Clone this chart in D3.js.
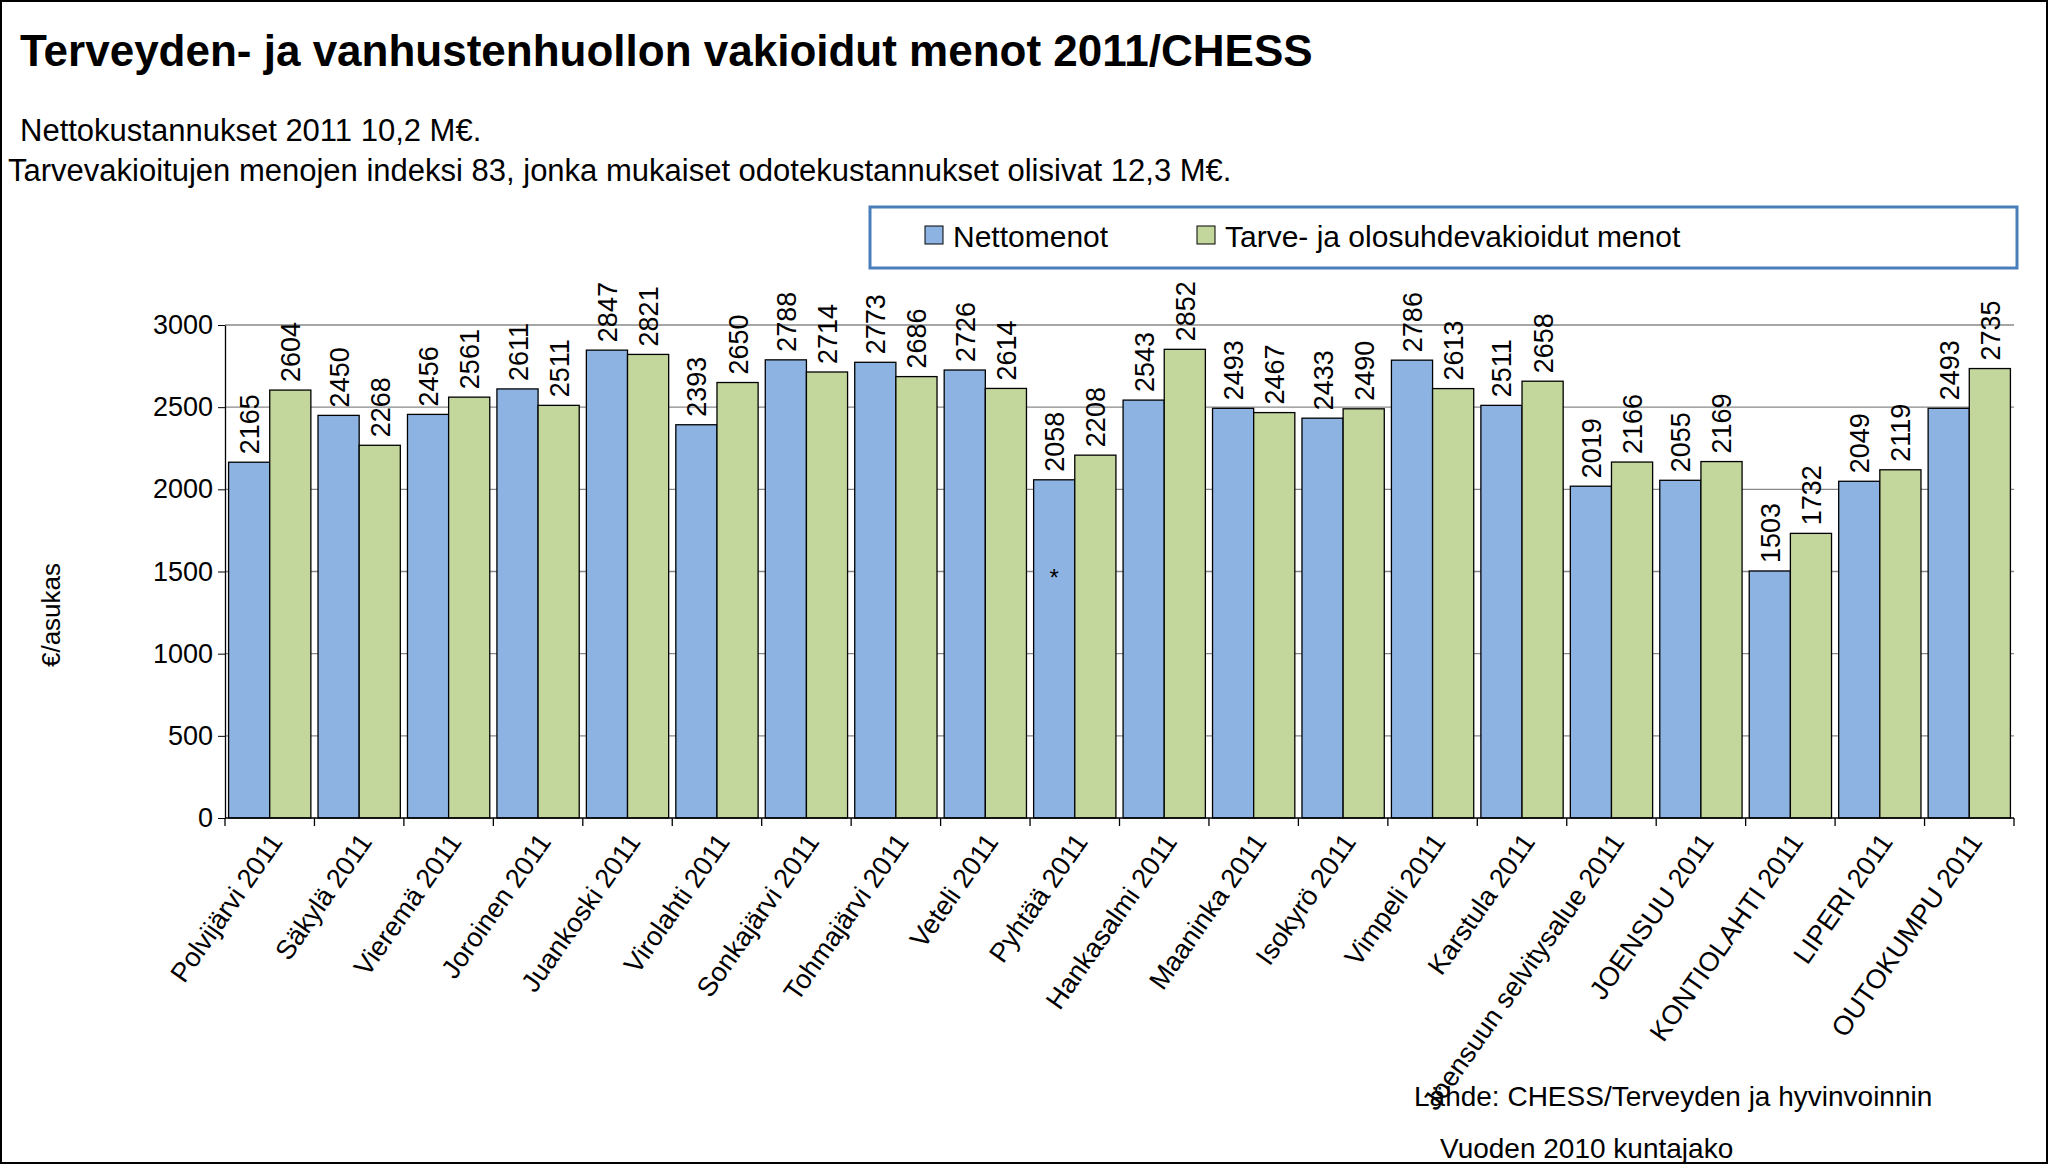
<!DOCTYPE html>
<html><head><meta charset="utf-8">
<script src="https://cdn.jsdelivr.net/npm/d3@7/dist/d3.min.js"></script>
<style>body{margin:0;background:#fff}svg text{font-family:"Liberation Sans",Arial,sans-serif}</style>
</head><body><svg id="c" width="2052" height="1168"></svg>
<script>
const categories=["Polvijärvi 2011","Säkylä 2011","Vieremä 2011","Joroinen 2011","Juankoski 2011","Virolahti 2011","Sonkajärvi 2011","Tohmajärvi 2011","Veteli 2011","Pyhtää 2011","Hankasalmi 2011","Maaninka 2011","Isokyrö 2011","Vimpeli 2011","Karstula 2011","Joensuun selvitysalue 2011","JOENSUU 2011","KONTIOLAHTI 2011","LIPERI 2011","OUTOKUMPU 2011"];
const netto=[2165,2450,2456,2611,2847,2393,2788,2773,2726,2058,2543,2493,2433,2786,2511,2019,2055,1503,2049,2493];
const vakio=[2604,2268,2561,2511,2821,2650,2714,2686,2614,2208,2852,2467,2490,2613,2658,2166,2169,1732,2119,2735];
const yTicks=[0,500,1000,1500,2000,2500,3000];
const seriesNames=["Nettomenot","Tarve- ja olosuhdevakioidut menot"];
const colors=["#8db3e2","#c3d69b"];

const svg=d3.select("#c");
svg.append("rect").attr("x",1).attr("y",1).attr("width",2046).attr("height",1162).attr("fill","#fff").attr("stroke","#000").attr("stroke-width",2);
const L=225,R=2014,T=325,B=818;
const x=d3.scaleBand().domain(categories).range([L,R]).paddingInner(0.08).paddingOuter(0.04);
const y=d3.scaleLinear().domain([0,3000]).range([B,T]);
const g=svg.append("g");
g.selectAll(".grid").data(yTicks.slice(1)).join("line").attr("x1",L).attr("x2",R).attr("y1",d=>y(d)).attr("y2",d=>y(d)).attr("stroke","#888").attr("stroke-width",1.3);
const bw=x.bandwidth()/2;
[netto,vakio].forEach((arr,si)=>{
  g.selectAll(".b"+si).data(arr).join("rect").attr("x",(d,i)=>x(categories[i])+si*bw).attr("y",d=>y(d)).attr("width",bw).attr("height",d=>B-y(d)).attr("fill",colors[si]).attr("stroke","#000").attr("stroke-width",1.3);
  g.selectAll(".l"+si).data(arr).join("text").attr("transform",(d,i)=>`translate(${x(categories[i])+si*bw+bw/2+10},${y(d)-8}) rotate(-90)`).attr("font-size",27).text(d=>d);
});
const pi=categories.indexOf("Pyhtää 2011");
g.append("text").attr("x",x(categories[pi])+bw/2).attr("y",y(1500)+14).attr("text-anchor","middle").attr("font-size",24).text("*");
const ya=d3.axisLeft(y).tickValues(yTicks).tickFormat(d3.format("d")).tickSize(7).tickSizeOuter(0);
const yg=svg.append("g").attr("transform",`translate(${L},0)`).call(ya);
yg.selectAll("text").attr("font-size",27).attr("dx",-2);
yg.select(".domain").attr("stroke","#000").attr("stroke-width",1.3);
const xg=svg.append("g").attr("transform",`translate(0,${B})`);
xg.append("line").attr("x1",L).attr("x2",R).attr("stroke","#000").attr("stroke-width",1.3);
const step=x.step();
xg.selectAll(".t").data(d3.range(categories.length+1)).join("line").attr("x1",i=>x(categories[0])-x.paddingInner()*step/2+i*step).attr("x2",i=>x(categories[0])-x.paddingInner()*step/2+i*step).attr("y2",8).attr("stroke","#000").attr("stroke-width",1.3);
xg.selectAll(".c").data(categories).join("text").attr("transform",d=>`translate(${x(d)+x.bandwidth()/2+14},24) rotate(-55)`).attr("text-anchor","end").attr("font-size",27).text(d=>d);
svg.append("text").attr("x",20).attr("y",66).attr("font-size",44).attr("font-weight","bold").text("Terveyden- ja vanhustenhuollon  vakioidut menot 2011/CHESS");
svg.append("text").attr("x",20).attr("y",141).attr("font-size",31).text("Nettokustannukset 2011 10,2 M€.");
svg.append("text").attr("x",8).attr("y",181).attr("font-size",31).text("Tarvevakioitujen  menojen indeksi 83, jonka  mukaiset odotekustannukset olisivat 12,3 M€.");
svg.append("text").attr("transform",`translate(60,615) rotate(-90)`).attr("text-anchor","middle").attr("font-size",26).text("€/asukas");
svg.append("rect").attr("x",870).attr("y",207).attr("width",1147).attr("height",61).attr("fill","#fff").attr("stroke","#4a7ebb").attr("stroke-width",3);
const lx=[925,1197];
seriesNames.forEach((n,i)=>{
  svg.append("rect").attr("x",lx[i]).attr("y",226).attr("width",18).attr("height",18).attr("fill",colors[i]).attr("stroke","#000");
  svg.append("text").attr("x",lx[i]+28).attr("y",247).attr("font-size",30).text(n);
});
svg.append("text").attr("x",1414).attr("y",1106).attr("font-size",28).text("Lähde: CHESS/Terveyden ja hyvinvoinnin");
svg.append("text").attr("x",1440).attr("y",1158).attr("font-size",28).text("Vuoden 2010 kuntajako");
</script></body></html>
